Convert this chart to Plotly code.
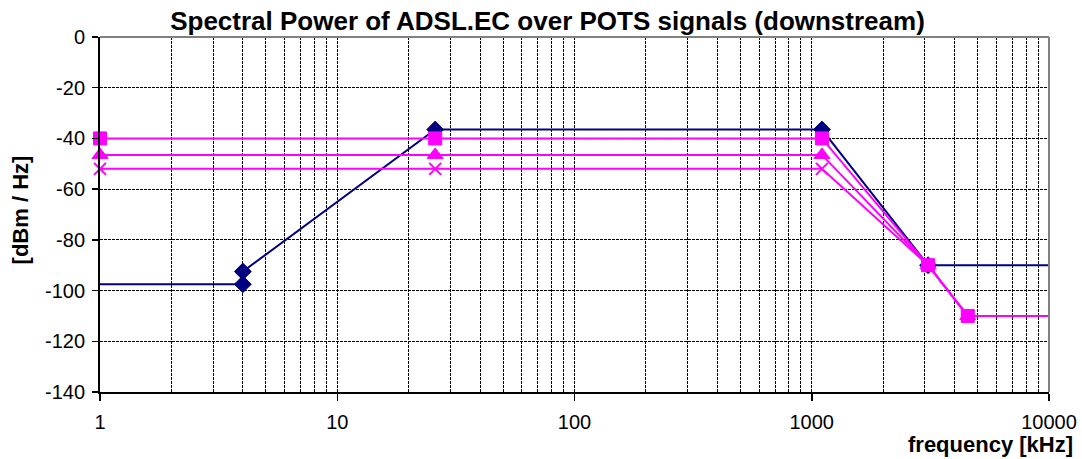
import plotly.graph_objects as go

# ---- data ----
navy_freq = [0.5, 4, 4, 25.875, 1104, 3093, 11040]
navy_psd = [-97.5, -97.5, -92.5, -36.5, -36.5, -90, -90]

pink_freq = [1, 25.875, 1104, 3093, 4545, 11040]
pink_sq_psd = [-40, -40, -40, -90, -110, -110]
pink_tri_psd = [-46.5, -46.5, -46.5, -90, -110, -110]
pink_x_psd = [-52, -52, -52, -90, -110, -110]

x_ticks = [1, 10, 100, 1000, 10000]
x_tick_labels = ["1", "10", "100", "1000", "10000"]
y_ticks = [0, -20, -40, -60, -80, -100, -120, -140]
y_tick_labels = ["0", "-20", "-40", "-60", "-80", "-100", "-120", "-140"]

NAVY = "#000080"
PINK = "#FF00FF"
FONT = "Liberation Sans, Arial, sans-serif"
GRID_DASH = "3px,1px"

minor_vals = [m * 10 ** d for d in range(0, 4) for m in range(2, 10)]


def sizes(freqs, s):
    # hide markers for points that only carry the line past the axis ends
    return [s if 1 <= f <= 10000 else 0 for f in freqs]


fig = go.Figure()
fig.add_trace(go.Scatter(
    x=navy_freq, y=navy_psd, mode="lines+markers", cliponaxis=False,
    line=dict(color=NAVY, width=2),
    marker=dict(symbol="diamond", size=sizes(navy_freq, 13), color=NAVY, opacity=1,
                line=dict(color=NAVY, width=1)),
    showlegend=False))
fig.add_trace(go.Scatter(
    x=pink_freq, y=pink_x_psd, mode="lines+markers", cliponaxis=False,
    line=dict(color=PINK, width=2),
    marker=dict(symbol="x-thin", size=sizes(pink_freq, 12), color=PINK, opacity=1,
                line=dict(color=PINK, width=2)),
    showlegend=False))
fig.add_trace(go.Scatter(
    x=pink_freq, y=pink_tri_psd, mode="lines+markers", cliponaxis=False,
    line=dict(color=PINK, width=2),
    marker=dict(symbol="triangle-up", size=sizes(pink_freq, 14), color=PINK, opacity=1,
                line=dict(color=PINK, width=1)),
    showlegend=False))
fig.add_trace(go.Scatter(
    x=pink_freq, y=pink_sq_psd, mode="lines+markers", cliponaxis=False,
    line=dict(color=PINK, width=2),
    marker=dict(symbol="square", size=sizes(pink_freq, 13), color=PINK, opacity=1,
                line=dict(color=PINK, width=1)),
    showlegend=False))

fig.update_layout(
    width=1082, height=459,
    margin=dict(l=100, r=33, t=37, b=67),
    paper_bgcolor="white", plot_bgcolor="white",
    font=dict(family=FONT, color="black", size=20),
    title=dict(text="<b>Spectral Power of ADSL.EC over POTS signals (downstream)</b>",
               font=dict(size=26, family=FONT, color="black"),
               xref="container", x=0.506, xanchor="center",
               yref="container", y=1 - 21 / 459, yanchor="middle"),
    xaxis=dict(type="log", range=[0, 4], tickvals=x_ticks, ticktext=x_tick_labels,
               automargin=False,
               showline=True, linecolor="black", linewidth=2,
               ticks="outside", ticklen=7, tickwidth=1.5, tickcolor="black",
               ticklabelstandoff=4,
               showgrid=True, gridcolor="black", gridwidth=1, griddash=GRID_DASH,
               minor=dict(tickvals=minor_vals, showgrid=True, gridcolor="black",
                          gridwidth=1, griddash=GRID_DASH, ticks=""),
               zeroline=False, tickfont=dict(size=20)),
    yaxis=dict(range=[-140, 0], tickvals=y_ticks, ticktext=y_tick_labels,
               automargin=False,
               showline=True, linecolor="black", linewidth=2,
               ticks="outside", ticklen=6, tickwidth=1.5, tickcolor="black",
               ticklabelstandoff=3,
               showgrid=True, gridcolor="black", gridwidth=1, griddash=GRID_DASH,
               zeroline=False, tickfont=dict(size=20)),
    shapes=[
        dict(type="line", xref="paper", yref="paper", x0=0, x1=1, y0=1, y1=1,
             line=dict(color="#808080", width=2)),
        dict(type="line", xref="paper", yref="paper", x0=1, x1=1, y0=0, y1=1,
             line=dict(color="#808080", width=2)),
    ],
    annotations=[
        dict(text="<b>[dBm / Hz]</b>", xref="paper", yref="paper",
             x=(21 - 100) / 948, y=(392 - 209.5) / 355, xanchor="center", yanchor="middle",
             textangle=-90, showarrow=False, font=dict(size=22, family=FONT)),
        dict(text="<b>frequency [kHz]</b>", xref="paper", yref="paper",
             x=(1074 - 100) / 948, y=-(444 - 392) / 355, xanchor="right", yanchor="middle",
             showarrow=False, font=dict(size=22, family=FONT)),
    ],
)

# remove the browser's default 8px page margin so the figure sits at the window origin
fig.write_html("out.html", config={"displayModeBar": False, "staticPlot": True},
               post_script="document.body.style.margin='0';")
